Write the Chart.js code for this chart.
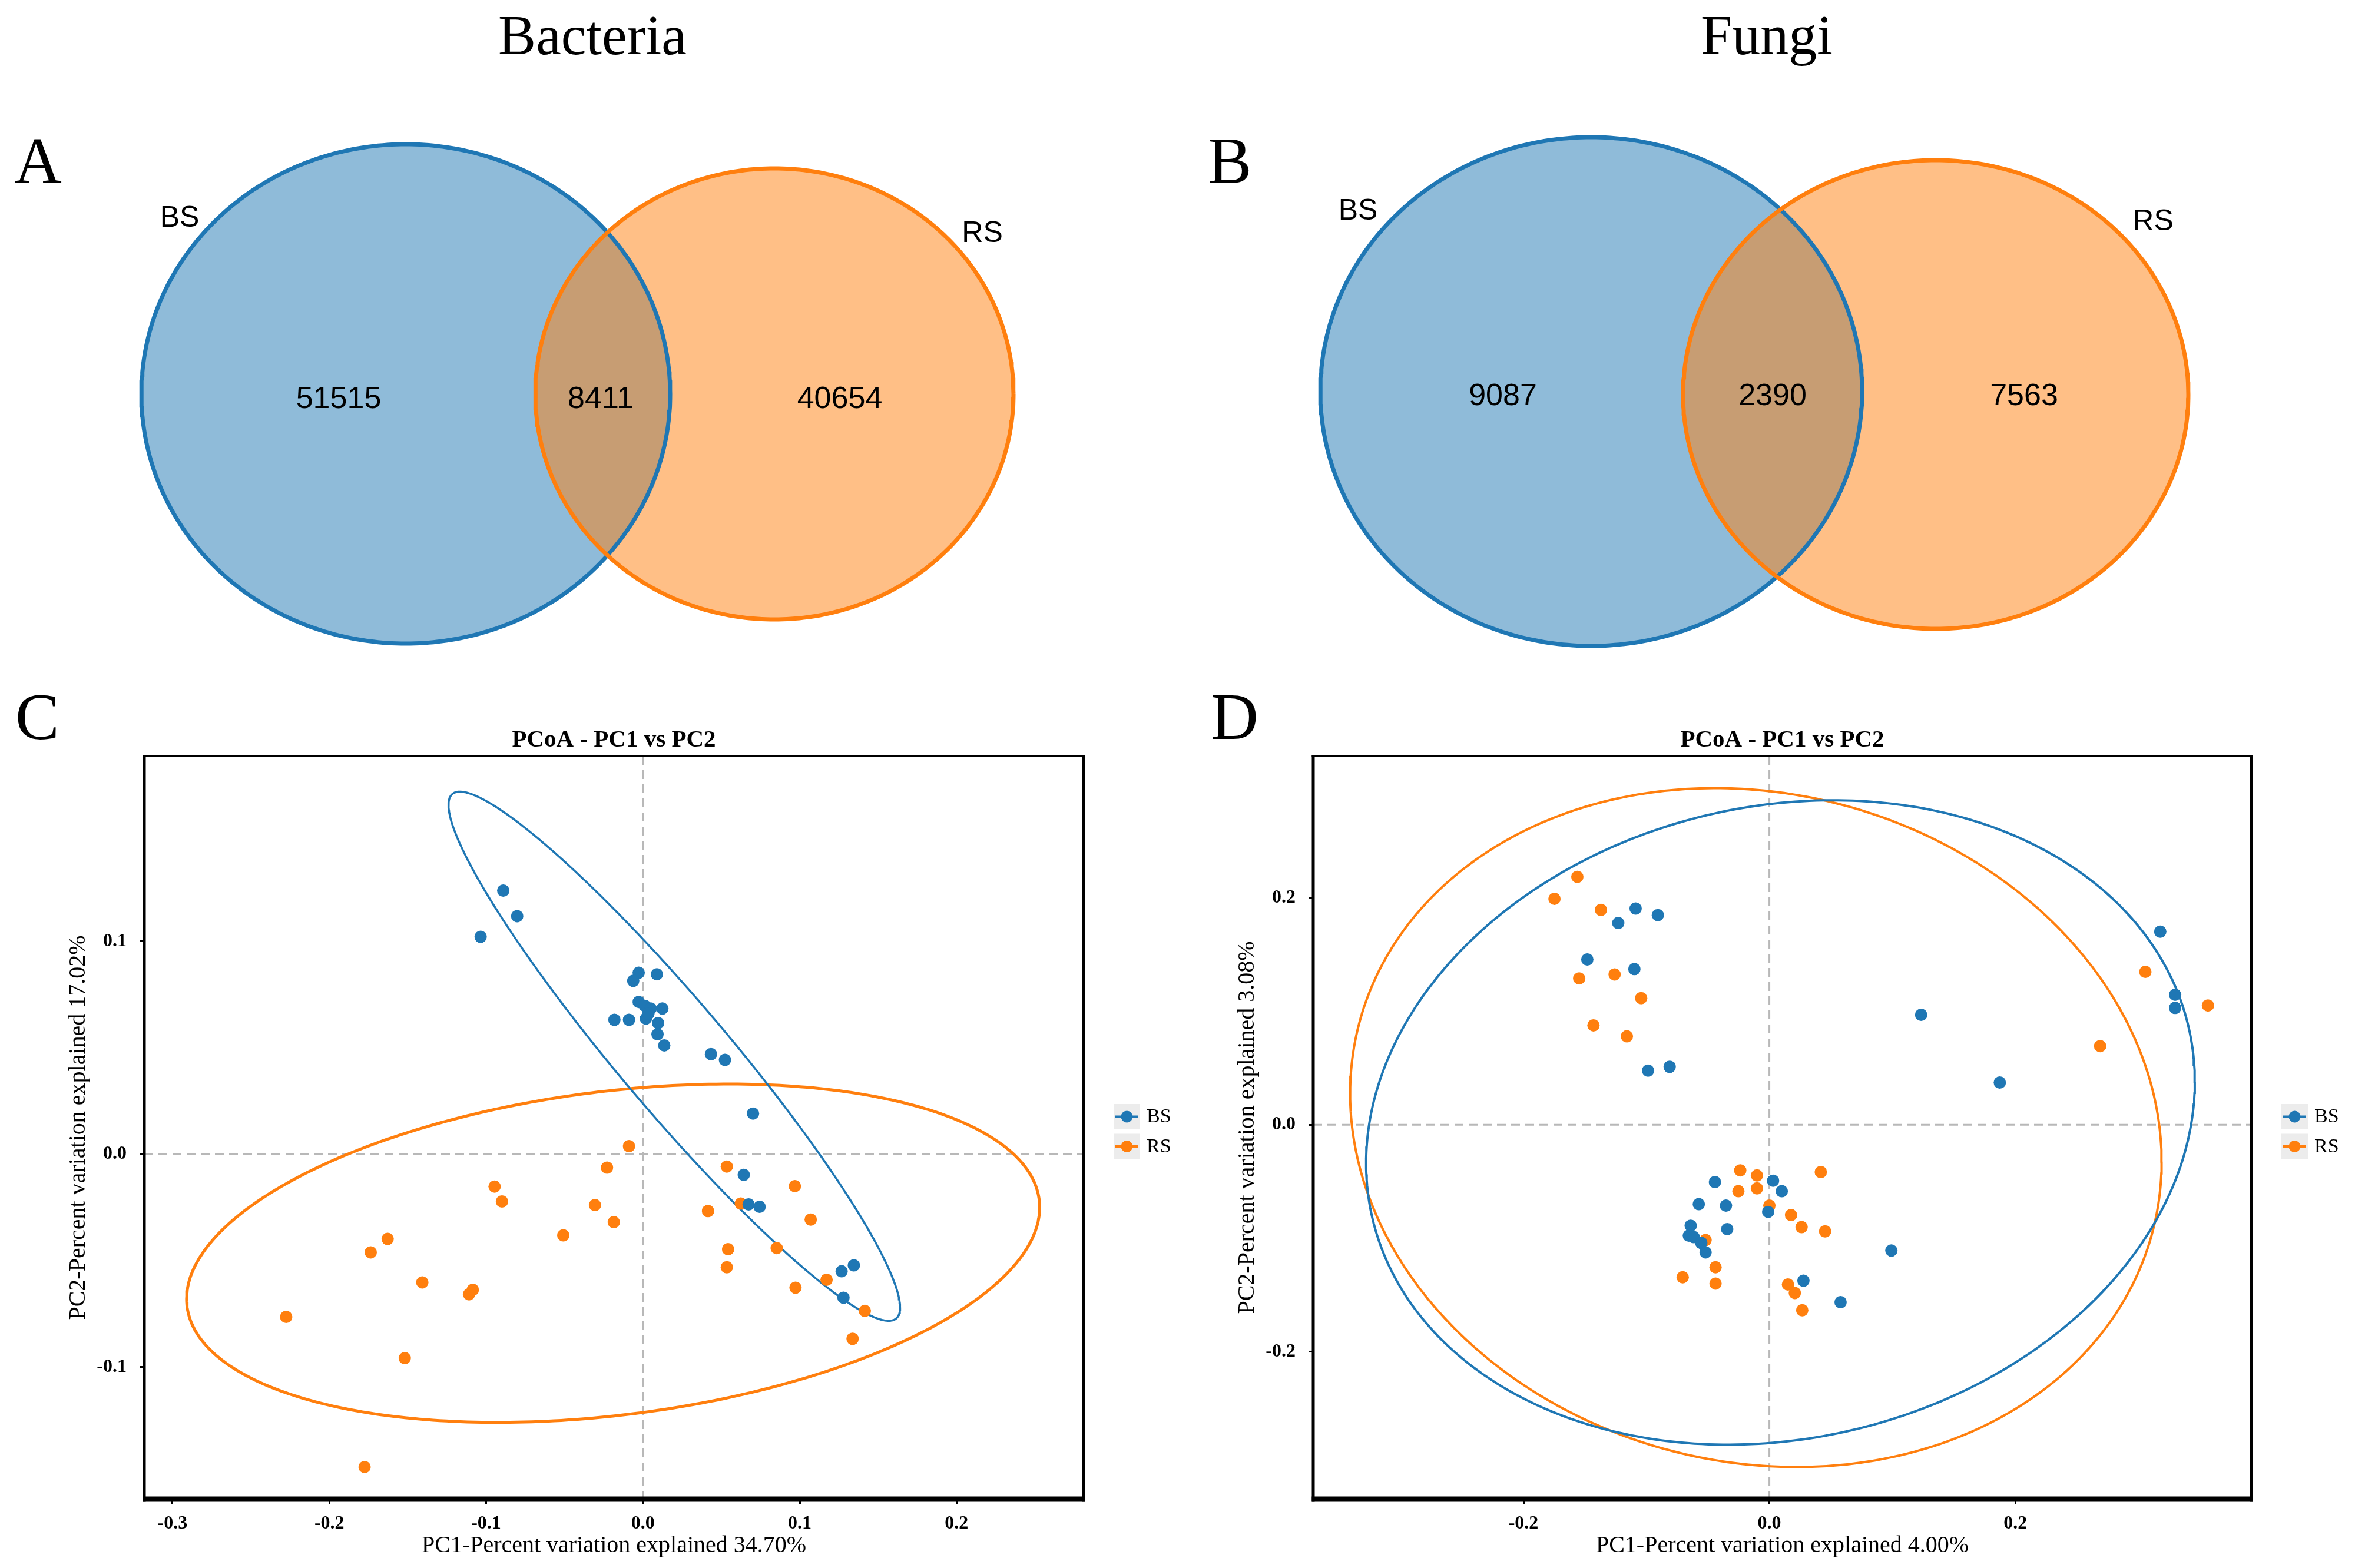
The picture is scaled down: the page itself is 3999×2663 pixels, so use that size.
<!DOCTYPE html>
<html>
<head>
<meta charset="utf-8">
<title>Venn diagrams and PCoA of bacterial and fungal communities (BS vs RS)</title>
<script src="https://cdn.jsdelivr.net/npm/chart.js@4.4.1/dist/chart.umd.min.js"></script>
<style>
  html, body { margin: 0; padding: 0; background: #ffffff; }
  body { position: relative; width: 3999px; height: 2663px; overflow: hidden; }
  canvas { position: absolute; display: block; }
</style>
</head>
<body>
<canvas id="vennA" width="1999" height="1180" style="left:0px;top:0px"></canvas>
<canvas id="vennB" width="2000" height="1180" style="left:1999px;top:0px"></canvas>
<canvas id="pcoaC" width="1999" height="1483" style="left:0px;top:1180px"></canvas>
<canvas id="pcoaD" width="2000" height="1483" style="left:1999px;top:1180px"></canvas>
<script>
// ===================== DATA =====================
const vennSets = ['BS', 'RS'];
// [BS only, shared, RS only]
const bacteriaCounts = [51515, 8411, 40654];
const fungiCounts = [9087, 2390, 7563];
const vennTitles = ['Bacteria', 'Fungi'];
const panelLetters = ['A', 'B', 'C', 'D'];

const pcoaTitle = 'PCoA - PC1 vs PC2';
const bacXTitle = 'PC1-Percent variation explained 34.70%';
const bacYTitle = 'PC2-Percent variation explained 17.02%';
const funXTitle = 'PC1-Percent variation explained 4.00%';
const funYTitle = 'PC2-Percent variation explained 3.08%';

const bacXTicks = [-0.3, -0.2, -0.1, 0.0, 0.1, 0.2];
const bacYTicks = [-0.1, 0.0, 0.1];
const funXTicks = [-0.2, 0.0, 0.2];
const funYTicks = [-0.2, 0.0, 0.2];

// Bacteria PCoA (panel C)
const bacBS_PC1 = [-0.0891, -0.0802, -0.1035, -0.0027, -0.0062, 0.0089, -0.0027, 0.0012, 0.0050, 0.0124, 0.0019, -0.0182, -0.0089, 0.0097, 0.0093, 0.0136, 0.0434, 0.0523, 0.0702, 0.0643, 0.0674, 0.0744, 0.1345, 0.1267, 0.1279, 0.0035];
const bacBS_PC2 = [0.1238, 0.1118, 0.1021, 0.0852, 0.0814, 0.0845, 0.0715, 0.0697, 0.0684, 0.0684, 0.0637, 0.0631, 0.0631, 0.0616, 0.0563, 0.0511, 0.0470, 0.0443, 0.0191, -0.0097, -0.0236, -0.0247, -0.0522, -0.0550, -0.0674, 0.0660];
const bacRS_PC1 = [-0.0089, -0.0229, -0.0946, -0.0899, -0.0306, -0.0186, -0.0508, -0.1628, -0.1736, -0.1407, -0.1085, -0.1109, -0.2275, -0.1519, -0.1775, 0.0535, 0.0969, 0.0624, 0.0415, 0.1070, 0.0543, 0.0853, 0.0535, 0.1171, 0.0973, 0.1415, 0.1337];
const bacRS_PC2 = [0.0038, -0.0063, -0.0152, -0.0222, -0.0239, -0.0319, -0.0381, -0.0398, -0.0461, -0.0602, -0.0637, -0.0658, -0.0764, -0.0958, -0.1469, -0.0058, -0.0150, -0.0232, -0.0267, -0.0307, -0.0446, -0.0441, -0.0531, -0.0590, -0.0627, -0.0736, -0.0867];

// Fungi PCoA (panel D)
const funBS_PC1 = [-0.1088, -0.0907, -0.1229, -0.1481, -0.1098, -0.0987, -0.0811, 0.3179, 0.3300, 0.3300, 0.1234, 0.1874, -0.0443, 0.0030, 0.0101, -0.0574, -0.0353, -0.0010, -0.0640, -0.0343, -0.0655, -0.0615, -0.0554, -0.0519, 0.0992, 0.0277, 0.0579];
const funBS_PC2 = [0.1906, 0.1848, 0.1778, 0.1457, 0.1372, 0.0477, 0.0511, 0.1702, 0.1146, 0.1030, 0.0969, 0.0372, -0.0505, -0.0493, -0.0586, -0.0700, -0.0713, -0.0768, -0.0890, -0.0920, -0.0978, -0.0991, -0.1041, -0.1125, -0.1109, -0.1375, -0.1564];
const funRS_PC1 = [-0.1562, -0.1748, -0.1370, -0.1547, -0.1259, -0.1043, -0.1431, -0.1159, 0.3058, 0.3567, 0.2690, -0.0237, -0.0101, 0.0418, -0.0252, -0.0101, 0.0000, 0.0176, 0.0262, 0.0453, -0.0519, -0.0438, -0.0705, -0.0438, 0.0151, 0.0207, 0.0267];
const funRS_PC2 = [0.2185, 0.1992, 0.1894, 0.1290, 0.1325, 0.1116, 0.0876, 0.0779, 0.1348, 0.1051, 0.0693, -0.0402, -0.0447, -0.0417, -0.0586, -0.0561, -0.0713, -0.0796, -0.0902, -0.0940, -0.1016, -0.1256, -0.1344, -0.1400, -0.1408, -0.1483, -0.1635];

// Confidence ellipses: [centre PC1, centre PC2, axis1 dPC1, axis1 dPC2, axis2 dPC1, axis2 dPC2]
const bacBS_ellipse = [0.020, 0.046, 0.144, -0.118, 0.0, 0.039];
const bacRS_ellipse = [-0.019, -0.0465, 0.272, 0.0215, 0.0, 0.0765];
const funBS_ellipse = [0.009, 0.002, 0.337, 0.036, 0.0, 0.2817];
const funRS_ellipse = [-0.011, -0.0025, 0.330, -0.030, 0.0, 0.2977];

// ===================== STYLE / LAYOUT =====================
const BLUE = '#1f77b4', ORANGE = '#ff7f0e';
const BLUE_FILL = 'rgba(31,119,180,0.5)', ORANGE_FILL = 'rgba(255,127,14,0.5)';
const SERIF = '"Liberation Serif", "DejaVu Serif", serif';
const SANS = '"Liberation Sans", Arial, sans-serif';

const vennLayoutA = { w: 1999, h: 1180, bs: [689, 669, 449, 424], rs: [1315, 669, 406, 383],
  countX: [575, 1020, 1426], countBase: 693, labelBS: [305, 385], labelRS: [1668, 411],
  title: [1006, 92], letter: [24, 311] };
const vennLayoutB = { w: 2000, h: 1180, bs: [703, 665, 460, 432], rs: [1288, 670, 429, 398],
  countX: [553, 1011, 1438], countBase: 688, labelBS: [307, 373], labelRS: [1657, 391],
  title: [1001, 92], letter: [52, 311] };

// y scale box width 110, x scale box height 70 (subtracted from the paddings)
const layoutC = { pad: {left: 135, right: 159, top: 104, bottom: 47}, letter: [26, 75],
  xRange: [-0.318, 0.281], yRange: [-0.162, 0.187], bsWidth: 3.5, rsWidth: 5 };
const layoutD = { pad: {left: 121, right: 176, top: 104, bottom: 47}, letter: [57, 75],
  xRange: [-0.371, 0.392], yRange: [-0.330, 0.325], bsWidth: 4, rsWidth: 4 };

// ===================== HELPERS =====================
function toPoints(xs, ys) { return xs.map((x, i) => ({ x: x, y: ys[i] })); }
function ellipseCurve(e, n) {
  n = n || 360;
  const out = [];
  for (let i = 0; i <= n; i++) {
    const t = 2 * Math.PI * i / n, c = Math.cos(t), s = Math.sin(t);
    out.push({ x: e[0] + e[2] * c + e[4] * s, y: e[1] + e[3] * c + e[5] * s });
  }
  return out;
}
function fmt(v) { return (Math.abs(v) < 1e-9 ? 0 : v).toFixed(1); }

// ===================== VENN =====================
function makeVenn(id, counts, title, letter, L) {
  const decor = {
    id: 'vennDecor_' + id,
    afterDatasetsDraw(chart) {
      const ctx = chart.ctx, sx = chart.scales.x, sy = chart.scales.y;
      const X = v => sx.getPixelForValue(v), Y = v => sy.getPixelForValue(v);
      ctx.save();
      ctx.fillStyle = '#000';
      ctx.textBaseline = 'alphabetic';
      ctx.font = '96px ' + SERIF;
      ctx.textAlign = 'center';
      ctx.fillText(title, X(L.title[0]), Y(L.title[1]));
      ctx.font = '112px ' + SERIF;
      ctx.textAlign = 'left';
      ctx.fillText(letter, X(L.letter[0]), Y(L.letter[1]));
      ctx.font = '50px ' + SANS;
      ctx.textAlign = 'center';
      ctx.fillText(vennSets[0], X(L.labelBS[0]), Y(L.labelBS[1]));
      ctx.fillText(vennSets[1], X(L.labelRS[0]), Y(L.labelRS[1]));
      ctx.font = '52px ' + SANS;
      counts.forEach((c, i) => ctx.fillText(String(c), X(L.countX[i]), Y(L.countBase)));
      ctx.restore();
    }
  };
  return new Chart(document.getElementById(id), {
    type: 'scatter',
    data: {
      datasets: [
        { label: vennSets[1], data: ellipseCurve([L.rs[0], L.rs[1], L.rs[2], 0, 0, L.rs[3]]),
          showLine: true, pointRadius: 0, borderColor: ORANGE, borderWidth: 7,
          backgroundColor: ORANGE_FILL, fill: 'shape', order: 0 },
        { label: vennSets[0], data: ellipseCurve([L.bs[0], L.bs[1], L.bs[2], 0, 0, L.bs[3]]),
          showLine: true, pointRadius: 0, borderColor: BLUE, borderWidth: 7,
          backgroundColor: BLUE_FILL, fill: 'shape', order: 1 }
      ]
    },
    options: {
      responsive: false, animation: false, devicePixelRatio: 1, events: [],
      layout: { padding: 0 },
      scales: {
        x: { type: 'linear', min: 0, max: L.w, display: false },
        y: { type: 'linear', min: 0, max: L.h, reverse: true, display: false }
      },
      plugins: { legend: { display: false }, tooltip: { enabled: false }, title: { display: false },
        filler: { drawTime: 'beforeDatasetsDraw' } },
      elements: { line: { tension: 0, borderJoinStyle: 'round' } }
    },
    plugins: [decor]
  });
}

// ===================== PCoA =====================
function makePcoa(id, cfg, L) {
  const decor = {
    id: 'pcoaDecor_' + id,
    beforeDatasetsDraw(chart) {
      const { ctx, chartArea: a, scales: { x, y } } = chart;
      const x0 = x.getPixelForValue(0), y0 = y.getPixelForValue(0);
      ctx.save();
      ctx.strokeStyle = '#b8b8b8';
      ctx.lineWidth = 3;
      ctx.setLineDash([15, 9]);
      ctx.beginPath();
      ctx.moveTo(x0, a.top); ctx.lineTo(x0, a.bottom);
      ctx.moveTo(a.left, y0); ctx.lineTo(a.right, y0);
      ctx.stroke();
      ctx.restore();
    },
    afterDraw(chart) {
      const { ctx, chartArea: a } = chart;
      const midX = (a.left + a.right) / 2, midY = (a.top + a.bottom) / 2;
      ctx.save();
      ctx.strokeStyle = '#000';
      ctx.lineCap = 'butt';
      const side = (w, x1, y1, x2, y2) => { ctx.lineWidth = w; ctx.beginPath(); ctx.moveTo(x1, y1); ctx.lineTo(x2, y2); ctx.stroke(); };
      side(4, a.left - 2.5, a.top, a.right + 2.5, a.top);
      side(5, a.left, a.top - 2, a.left, a.bottom + 4.5);
      side(5, a.right, a.top - 2, a.right, a.bottom + 4.5);
      side(9, a.left - 2.5, a.bottom, a.right + 2.5, a.bottom);
      ctx.fillStyle = '#000';
      ctx.textAlign = 'center';
      ctx.textBaseline = 'alphabetic';
      ctx.font = 'bold 41px ' + SERIF;
      ctx.fillText(cfg.title, midX, a.top - 16);
      ctx.font = '40px ' + SERIF;
      ctx.fillText(cfg.xTitle, midX, a.bottom + 90);
      ctx.save();
      ctx.translate(a.left - 112, midY);
      ctx.rotate(-Math.PI / 2);
      ctx.textBaseline = 'middle';
      ctx.fillText(cfg.yTitle, 0, 0);
      ctx.restore();
      ctx.font = '112px ' + SERIF;
      ctx.textAlign = 'left';
      ctx.textBaseline = 'alphabetic';
      ctx.fillText(cfg.letter, L.letter[0], L.letter[1]);
      const items = chart.data.datasets.filter(d => !d.isEllipse);
      items.forEach((d, i) => {
        const cy = midY + 6.75 + (i - 0.5) * 50.5;
        const bx = a.right + 51;
        ctx.fillStyle = '#ececec';
        ctx.fillRect(bx, cy - 21.5, 45, 43);
        ctx.strokeStyle = d.borderColor;
        ctx.lineWidth = 4;
        ctx.beginPath(); ctx.moveTo(bx + 3, cy); ctx.lineTo(bx + 42, cy); ctx.stroke();
        ctx.fillStyle = d.backgroundColor;
        ctx.beginPath(); ctx.arc(bx + 22.5, cy, 10, 0, Math.PI * 2); ctx.fill();
        ctx.fillStyle = '#000';
        ctx.font = '34px ' + SERIF;
        ctx.textAlign = 'left';
        ctx.textBaseline = 'middle';
        ctx.fillText(d.label, bx + 56, cy + 1);
      });
      ctx.restore();
    }
  };
  const tickFont = { family: SERIF, size: 32, weight: 'bold' };
  return new Chart(document.getElementById(id), {
    type: 'scatter',
    data: {
      datasets: [
        { label: vennSets[0], data: toPoints(cfg.bsX, cfg.bsY), backgroundColor: BLUE, borderColor: BLUE,
          pointRadius: 10.5, pointBorderWidth: 0, order: 0 },
        { label: vennSets[1], data: toPoints(cfg.rsX, cfg.rsY), backgroundColor: ORANGE, borderColor: ORANGE,
          pointRadius: 10.5, pointBorderWidth: 0, order: 1 },
        { label: vennSets[0] + ' ellipse', isEllipse: true, data: ellipseCurve(cfg.bsEll), showLine: true,
          pointRadius: 0, borderColor: BLUE, borderWidth: L.bsWidth, fill: false, order: 2 },
        { label: vennSets[1] + ' ellipse', isEllipse: true, data: ellipseCurve(cfg.rsEll), showLine: true,
          pointRadius: 0, borderColor: ORANGE, borderWidth: L.rsWidth, fill: false, order: 3 }
      ]
    },
    options: {
      responsive: false, animation: false, devicePixelRatio: 1, events: [],
      layout: { padding: L.pad },
      elements: { line: { tension: 0 } },
      scales: {
        x: {
          type: 'linear', min: L.xRange[0], max: L.xRange[1],
          afterFit: s => { s.height = 70; },
          afterBuildTicks: s => { s.ticks = cfg.xTicks.map(v => ({ value: v })); },
          ticks: { callback: v => fmt(v), font: tickFont, color: '#000', padding: 15, maxRotation: 0, minRotation: 0, autoSkip: false },
          grid: { display: true, drawOnChartArea: false, drawTicks: true, tickLength: 8, tickWidth: 3, tickColor: '#000' },
          border: { display: false }
        },
        y: {
          type: 'linear', min: L.yRange[0], max: L.yRange[1],
          afterFit: s => { s.width = 110; },
          afterBuildTicks: s => { s.ticks = cfg.yTicks.map(v => ({ value: v })); },
          ticks: { callback: v => fmt(v), font: tickFont, color: '#000', padding: 22, autoSkip: false },
          grid: { display: true, drawOnChartArea: false, drawTicks: true, tickLength: 8, tickWidth: 3, tickColor: '#000' },
          border: { display: false }
        }
      },
      plugins: { legend: { display: false }, tooltip: { enabled: false }, title: { display: false } }
    },
    plugins: [decor]
  });
}

makeVenn('vennA', bacteriaCounts, vennTitles[0], panelLetters[0], vennLayoutA);
makeVenn('vennB', fungiCounts, vennTitles[1], panelLetters[1], vennLayoutB);

makePcoa('pcoaC', {
  bsX: bacBS_PC1, bsY: bacBS_PC2, rsX: bacRS_PC1, rsY: bacRS_PC2,
  bsEll: bacBS_ellipse, rsEll: bacRS_ellipse,
  xTicks: bacXTicks, yTicks: bacYTicks,
  title: pcoaTitle, xTitle: bacXTitle, yTitle: bacYTitle, letter: panelLetters[2]
}, layoutC);

makePcoa('pcoaD', {
  bsX: funBS_PC1, bsY: funBS_PC2, rsX: funRS_PC1, rsY: funRS_PC2,
  bsEll: funBS_ellipse, rsEll: funRS_ellipse,
  xTicks: funXTicks, yTicks: funYTicks,
  title: pcoaTitle, xTitle: funXTitle, yTitle: funYTitle, letter: panelLetters[3]
}, layoutD);
</script>
</body>
</html>
